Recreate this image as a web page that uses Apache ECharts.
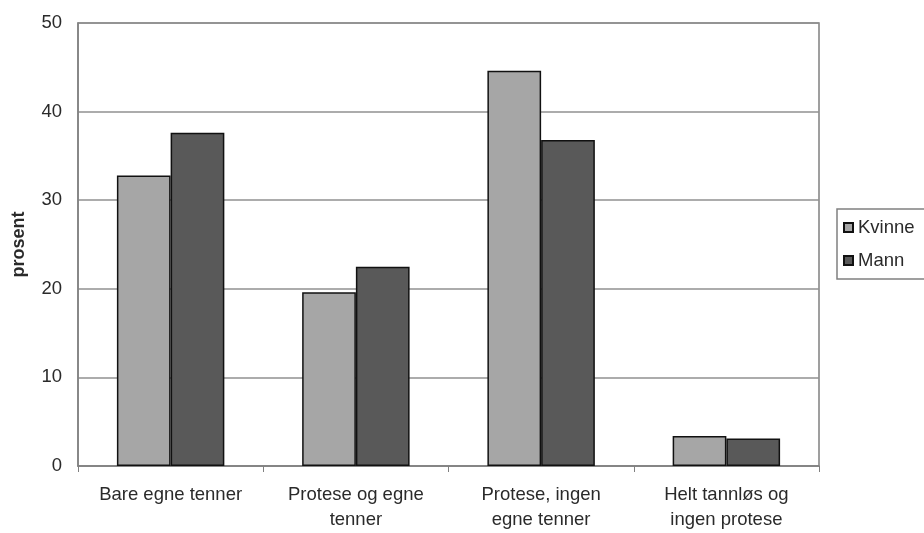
<!DOCTYPE html>
<html><head><meta charset="utf-8">
<script src="https://cdn.jsdelivr.net/npm/echarts@6/dist/echarts.min.js"></script>
<style>html,body{margin:0;padding:0;background:#fff}#c{width:924px;height:533px}</style>
</head><body><div id="c"></div>
<script>
const categories = ["Bare egne tenner", "Protese og egne\ntenner", "Protese, ingen\negne tenner", "Helt tannløs og\ningen protese"];
const kvinne = [32.8, 19.6, 44.6, 3.4];
const mann = [37.6, 22.5, 36.8, 3.1];
const seriesNames = ["Kvinne", "Mann"];
const yTicks = [0, 10, 20, 30, 40, 50];

const font = "'Liberation Sans', Arial, sans-serif";
const chart = echarts.init(document.getElementById('c'));
chart.setOption({
  animation: false,
  textStyle: { fontFamily: font },
  grid: { left: 78, right: 105, top: 23, bottom: 67, show: true, borderColor: '#808080', borderWidth: 1.5 },
  legend: {
    orient: 'vertical', left: 837, top: 209,
    data: seriesNames,
    icon: 'rect', itemWidth: 9, itemHeight: 9, itemGap: 14, itemTextGap: 3,
    padding: [9, 30, 9, 6],
    borderColor: '#808080', borderWidth: 1.5,
    textStyle: { fontFamily: font, fontSize: 18.5, color: '#2a2a2a' }
  },
  xAxis: {
    type: 'category', data: categories,
    axisLine: { lineStyle: { color: '#808080', width: 1.5 } },
    axisTick: { show: true, interval: 0, length: 6, lineStyle: { color: '#808080' } },
    axisLabel: { interval: 0, fontFamily: font, fontSize: 18.5, color: '#2a2a2a', lineHeight: 25, margin: 16 }
  },
  yAxis: {
    type: 'value', min: yTicks[0], max: yTicks[yTicks.length - 1], interval: 10,
    name: 'prosent', nameLocation: 'middle', nameRotate: 90, nameGap: 50,
    nameTextStyle: { fontFamily: font, fontSize: 18, fontWeight: 'bold', color: '#2a2a2a' },
    axisLine: { show: true, lineStyle: { color: '#808080', width: 1.5 } },
    axisTick: { show: false },
    splitLine: { lineStyle: { color: '#909090', width: 1.5 } },
    axisLabel: { fontFamily: font, fontSize: 18.5, color: '#2a2a2a', margin: 16 }
  },
  series: [
    { name: seriesNames[0], type: 'bar', data: kvinne, barGap: '0%', barCategoryGap: '42%',
      itemStyle: { color: '#a6a6a6', borderColor: '#111', borderWidth: 1.5 } },
    { name: seriesNames[1], type: 'bar', data: mann,
      itemStyle: { color: '#595959', borderColor: '#111', borderWidth: 1.5 } }
  ]
});
</script></body></html>
